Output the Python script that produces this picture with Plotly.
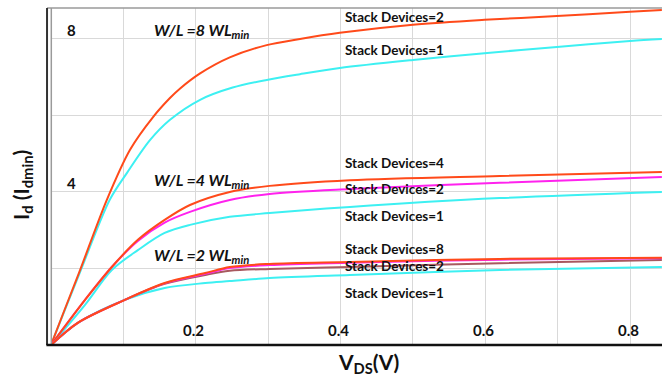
import plotly.graph_objects as go

# ---------------- data ----------------
# W/L = 8 WLmin
x_wl8_s2 = [0, 0.02, 0.04, 0.077, 0.109, 0.141, 0.164, 0.178, 0.206, 0.247, 0.298, 0.344, 0.399, 0.5, 0.599, 0.699, 0.8, 0.844]
y_wl8_s2 = [0, 0.98, 1.95, 3.79, 5.10, 5.96, 6.45, 6.70, 7.10, 7.52, 7.84, 8.00, 8.16, 8.37, 8.50, 8.60, 8.71, 8.76]
x_wl8_s1 = [0, 0.02, 0.04, 0.081, 0.105, 0.137, 0.164, 0.206, 0.251, 0.298, 0.344, 0.399, 0.5, 0.599, 0.699, 0.8, 0.844]
y_wl8_s1 = [0, 0.96, 1.90, 3.79, 4.50, 5.36, 5.88, 6.41, 6.73, 6.93, 7.08, 7.24, 7.45, 7.63, 7.79, 7.95, 8.00]

# W/L = 4 WLmin
x_wl4 = [0, 0.047, 0.084, 0.12, 0.157, 0.192, 0.247, 0.302, 0.413, 0.62, 0.844]
y_wl4_s4 = [0, 1.18, 2.04, 2.75, 3.27, 3.66, 4.00, 4.16, 4.31, 4.42, 4.52]
y_wl4_s2 = [0, 1.18, 2.04, 2.72, 3.20, 3.48, 3.79, 3.95, 4.08, 4.24, 4.39]
y_wl4_s1 = [0, 1.05, 1.96, 2.48, 2.93, 3.14, 3.35, 3.45, 3.61, 3.84, 4.00]

# W/L = 2 WLmin
x_wl2 = [0, 0.037, 0.102, 0.157, 0.213, 0.247, 0.302, 0.413, 0.62, 0.844]
y_wl2_s8 = [0, 0.58, 1.18, 1.62, 1.88, 2.04, 2.12, 2.17, 2.25, 2.28]
y_wl2_s4 = [0, 0.58, 1.18, 1.61, 1.86, 2.01, 2.09, 2.15, 2.23, 2.27]
y_wl2_s2 = [0, 0.58, 1.18, 1.60, 1.83, 1.94, 1.99, 2.04, 2.14, 2.22]
y_wl2_s1 = [0, 0.58, 1.18, 1.49, 1.62, 1.67, 1.75, 1.83, 1.96, 2.04]

x_tick_vals = [0.2, 0.4, 0.6, 0.8]
x_tick_text = ["0.2", "0.4", "0.6", "0.8"]
y_tick_vals = [4, 8]
y_tick_text = ["4", "8"]

wl_labels = ["W/L =8 WL<sub>min</sub>", "W/L =4 WL<sub>min</sub>", "W/L =2 WL<sub>min</sub>"]
wl_label_y = [8.21, 4.31, 2.33]
stack_labels = ["Stack Devices=2", "Stack Devices=1", "Stack Devices=4", "Stack Devices=2",
                "Stack Devices=1", "Stack Devices=8", "Stack Devices=2", "Stack Devices=1"]
stack_label_y = [8.58, 7.71, 4.76, 4.08, 3.37, 2.51, 2.07, 1.36]

RED = "#FF4A1A"
CYAN = "#3DF0F2"
MAGENTA = "#FF22EE"
BROWN = "#A8585E"

fig = go.Figure()

def add(x, y, color):
    fig.add_trace(go.Scatter(x=x, y=y, mode="lines", line=dict(color=color, width=2, shape="spline", smoothing=0.9),
                             showlegend=False, hoverinfo="skip"))

add(x_wl8_s1, y_wl8_s1, CYAN)
add(x_wl8_s2, y_wl8_s2, RED)
add(x_wl4, y_wl4_s1, CYAN)
add(x_wl4, y_wl4_s2, MAGENTA)
add(x_wl4, y_wl4_s4, RED)
add(x_wl2, y_wl2_s1, CYAN)
add(x_wl2, y_wl2_s2, BROWN)
add(x_wl2, y_wl2_s4, MAGENTA)
add(x_wl2, y_wl2_s8, RED)

FONT = "Lato, 'Liberation Sans', Arial, sans-serif"
ann = []
for v, t in zip(x_tick_vals, x_tick_text):
    ann.append(dict(x=v, y=0, xref="x", yref="y", text="<b>%s</b>" % t, showarrow=False,
                    yshift=15, xshift=-2, font=dict(size=15, color="#111", family=FONT)))
for v, t in zip(y_tick_vals, y_tick_text):
    ann.append(dict(x=0.029, y=v, xref="x", yref="y", text="<b>%s</b>" % t, showarrow=False,
                    yshift=9, font=dict(size=15, color="#111", family=FONT)))
for t, yv in zip(wl_labels, wl_label_y):
    ann.append(dict(x=0.1395, y=yv, xref="x", yref="y", text="<b><i>%s</i></b>" % t, showarrow=False,
                    xanchor="left", yanchor="middle", font=dict(size=16, color="#111", family=FONT)))
for t, yv in zip(stack_labels, stack_label_y):
    ann.append(dict(x=0.4035, y=yv, xref="x", yref="y", text="<b>%s</b>" % t, showarrow=False,
                    xanchor="left", yanchor="middle", font=dict(size=13.5, color="#111", family=FONT)))

ann.append(dict(x=-0.0475, y=0.475, xref="paper", yref="paper", text="<b>I<sub>d</sub> (I<sub>dmin</sub>)</b>",
                textangle=-90, showarrow=False, xanchor="center", yanchor="middle",
                font=dict(size=21, color="#111", family=FONT)))
ann.append(dict(x=0.52, y=-0.052, xref="paper", yref="paper", text="<b>V<sub>DS</sub>(V)</b>",
                showarrow=False, xanchor="center", yanchor="middle",
                font=dict(size=21, color="#111", family=FONT)))

shapes = [
    dict(type="line", xref="paper", yref="paper", x0=-0.0065, x1=1, y0=1, y1=1, line=dict(color="#9a9a9a", width=1.5)),
    dict(type="line", xref="paper", yref="paper", x0=-0.0065, x1=-0.0065, y0=0, y1=1, line=dict(color="#333", width=2)),
    dict(type="line", xref="paper", yref="paper", x0=0.0005, x1=0.0005, y0=0, y1=1, line=dict(color="#9a9a9a", width=1.5)),
    dict(type="line", xref="paper", yref="paper", x0=-0.0075, x1=1, y0=0, y1=0, line=dict(color="#111", width=2.5)),
]

fig.update_layout(
    width=662, height=376, autosize=False,
    margin=dict(l=51, r=0, t=8, b=31),
    paper_bgcolor="white", plot_bgcolor="white",
    xaxis=dict(range=[0, 0.8442], dtick=0.1, tick0=0, showgrid=True, gridcolor="#d9d9d9", gridwidth=1,
               showticklabels=False, zeroline=False, showline=False, ticks=""),
    yaxis=dict(range=[0, 8.81], dtick=2, tick0=0, showgrid=True, gridcolor="#d9d9d9", gridwidth=1,
               showticklabels=False, zeroline=False, showline=False, ticks=""),
    annotations=ann, shapes=shapes,
)

fig.write_html("out.html", config={"displayModeBar": False},
               post_script="document.body.style.margin='0';document.body.style.padding='0';")
